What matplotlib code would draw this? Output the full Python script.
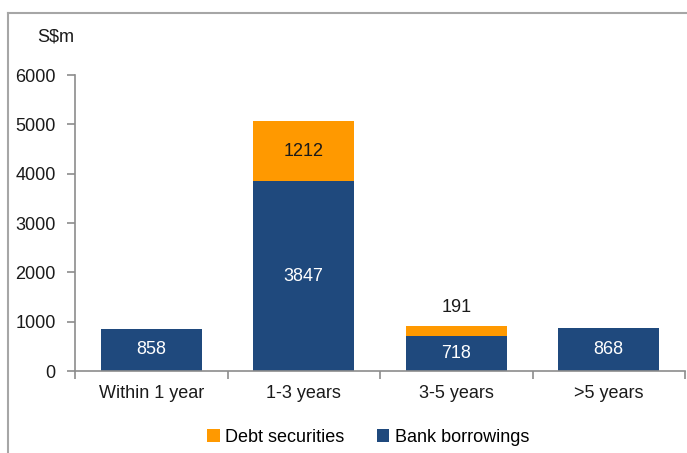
import matplotlib
matplotlib.use("Agg")
import matplotlib.pyplot as plt
from matplotlib import font_manager
from matplotlib.lines import Line2D
import numpy as np

names = {f.name for f in font_manager.fontManager.ttflist}
fam = "Liberation Sans Narrow" if "Liberation Sans Narrow" in names else "Liberation Sans"
plt.rcParams['font.family'] = [fam, 'DejaVu Sans']

categories = ["Within 1 year", "1-3 years", "3-5 years", ">5 years"]
bank = [858, 3847, 718, 868]
debt = [0, 1212, 191, 0]
debt_labels = ["", "1212", "191", ""]

blue = "#1F497D"
orange = "#FF9900"
gray = "#8C8C8C"

fig = plt.figure(figsize=(6.87, 4.53), dpi=100)
ax = fig.add_axes([75/687, 82/453, 610/687, 296/453])

x = np.arange(len(categories))
w = 0.66
ax.bar(x, bank, w, color=blue, label="Bank borrowings", zorder=2)
ax.bar(x, debt, w, bottom=bank, color=orange, label="Debt securities", zorder=2)

for i in range(len(categories)):
    ax.text(x[i], bank[i] / 2, str(bank[i]), ha="center", va="center",
            color="white", fontsize=13)
    if debt[i] > 0:
        if debt[i] > 400:
            ax.text(x[i], bank[i] + debt[i] / 2, debt_labels[i], ha="center",
                    va="center", color="#1a1a1a", fontsize=13)
        else:
            ax.text(x[i], bank[i] + debt[i] + 370, debt_labels[i], ha="center",
                    va="center", color="#1a1a1a", fontsize=13)

ax.set_xlim(-0.5, len(categories) - 0.5)
ax.set_ylim(0, 6000)
ax.set_yticks(np.arange(0, 6001, 1000))
ax.set_yticklabels([str(v) for v in range(0, 6001, 1000)], fontsize=13, color="#1a1a1a")
ax.set_xticks(x)
ax.set_xticklabels(categories, fontsize=13, color="#1a1a1a")
ax.tick_params(axis="x", length=0, pad=10)
ax.set_xticks(np.arange(-0.5, len(categories)), minor=True)
ax.tick_params(axis="x", which="minor", length=6, color=gray, width=1.2)
ax.tick_params(axis="y", length=6, color=gray, width=1.2, pad=8)

for s in ["top", "right"]:
    ax.spines[s].set_visible(False)
for s in ["left", "bottom"]:
    ax.spines[s].set_color(gray)
    ax.spines[s].set_linewidth(1.2)

fig.text(37/687, 1 - 37/453, "S$m", fontsize=13, color="#1a1a1a", ha="left", va="center")

handles, labels = ax.get_legend_handles_labels()
leg = fig.legend([handles[1], handles[0]], [labels[1], labels[0]], loc="center",
                 bbox_to_anchor=(368/687, 1 - 437/453), ncol=2, frameon=False,
                 fontsize=13, handlelength=0.7, handleheight=0.7, handletextpad=0.3,
                 columnspacing=1.8)

# figure border (left & top visible)
fig.add_artist(Line2D([8/687, 8/687], [0, 1 - 13/453], transform=fig.transFigure,
                      color="#A6A6A6", lw=1.5))
fig.add_artist(Line2D([8/687, 1], [1 - 13/453, 1 - 13/453], transform=fig.transFigure,
                      color="#A6A6A6", lw=1.5))

fig.savefig("out.png", dpi=100)
